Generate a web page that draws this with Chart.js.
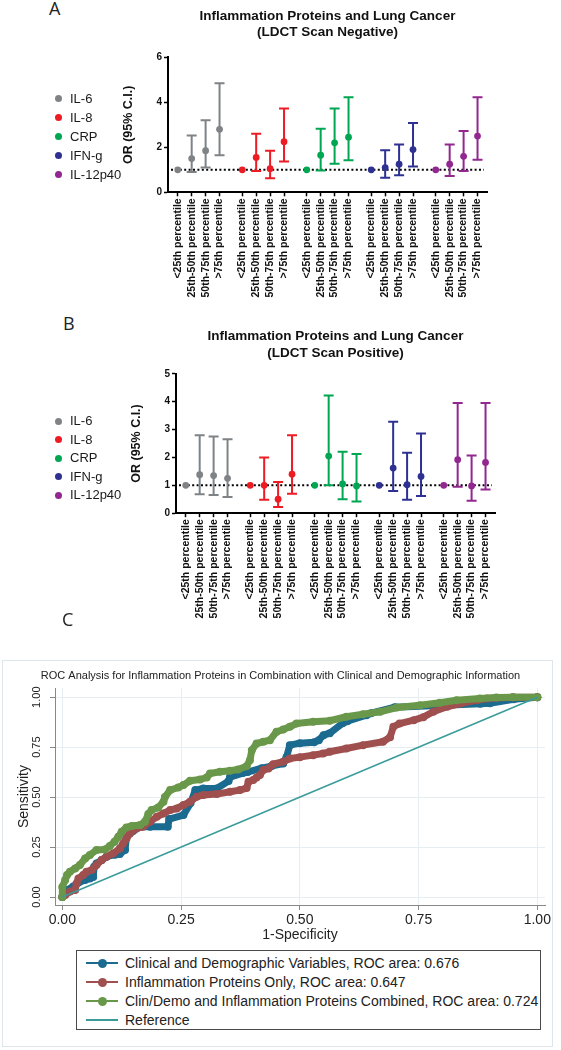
<!DOCTYPE html>
<html>
<head>
<meta charset="utf-8">
<script src="https://cdn.jsdelivr.net/npm/chart.js@4.4.1/dist/chart.umd.min.js"></script>
<style>
  body { margin: 0; background: #fff; }
  #page { position: relative; width: 561px; height: 1050px; overflow: hidden; font-family: Arial, "Liberation Sans", sans-serif; }
  canvas { position: absolute; left: 0; }
  .letter { position: absolute; font-family: "Open Sans", sans-serif; font-size: 18px; line-height: 20px; color: #222; }
  .lg-item { position: absolute; font-size: 13px; line-height: 16px; height: 16px; color: #1a1a1a; white-space: nowrap; }
  .lg-dot { position: absolute; width: 7px; height: 7px; border-radius: 50%; }
  #frameC { position: absolute; left: 2px; top: 660px; width: 549px; height: 385px; border: 1px solid #dfe6ea; }
  #legendC { position: absolute; left: 76px; top: 950px; width: 463px; height: 78px; border: 1px solid #4a4a4a; background: #fff; }
  .lc-row { position: absolute; left: 48px; font-size: 14px; line-height: 18px; height: 18px; color: #222; white-space: nowrap; }
  .lc-line { position: absolute; left: 9px; width: 32px; height: 2px; }
  .lc-mark { position: absolute; left: 21px; width: 9px; height: 9px; border-radius: 50%; }
</style>
</head>
<body>
<div id="page">
  <div class="letter" style="left:49px;top:-2px">A</div>
  <canvas id="chartA" width="561" height="310" style="top:0"></canvas>
  <div class="letter" style="left:63px;top:313px">B</div>
  <canvas id="chartB" width="561" height="330" style="top:310px"></canvas>
  <div class="letter" style="left:62px;top:609px">C</div>
  <div id="frameC"></div>
  <canvas id="chartC" width="561" height="290" style="top:660px"></canvas>
  <div id="legendC"></div>
</div>
<script>
// ---- panels A and B: odds ratios by quartile ----
const proteins = ['IL-6', 'IL-8', 'CRP', 'IFN-g', 'IL-12p40'];
const proteinColors = ['#7f8386', '#ed1c24', '#00a651', '#2e3192', '#92278f'];
const percentiles = ['<25th percentile', '25th-50th percentile', '50th-75th percentile', '>75th percentile'];

// LDCT scan negative (A); first quartile is the reference, no interval
const negOR = [[1, 1.5, 1.85, 2.8], [1, 1.55, 1.05, 2.25], [1, 1.65, 2.2, 2.45], [1, 1.1, 1.25, 1.9], [1, 1.25, 1.6, 2.5]];
const negLo = [[null, 0.9, 1.1, 1.65], [null, 0.95, 0.62, 1.37], [null, 0.97, 1.27, 1.42], [null, 0.65, 0.76, 1.15], [null, 0.72, 0.95, 1.45]];
const negHi = [[null, 2.52, 3.2, 4.85], [null, 2.6, 1.85, 3.72], [null, 2.82, 3.72, 4.22], [null, 1.87, 2.13, 3.08], [null, 2.12, 2.72, 4.22]];

// LDCT scan positive (B)
const posOR = [[1, 1.38, 1.35, 1.25], [1, 1.0, 0.5, 1.4], [1, 2.05, 1.05, 0.98], [1, 1.62, 1.02, 1.32], [1, 1.92, 0.98, 1.82]];
const posLo = [[null, 0.68, 0.65, 0.58], [null, 0.48, 0.22, 0.7], [null, 1.0, 0.5, 0.42], [null, 0.8, 0.48, 0.62], [null, 0.95, 0.45, 0.85]];
const posHi = [[null, 2.8, 2.75, 2.65], [null, 2.0, 1.12, 2.8], [null, 4.22, 2.2, 2.12], [null, 3.28, 2.17, 2.86], [null, 3.95, 2.07, 3.95]];

// ---- panel C: ROC curves (1-specificity, sensitivity) ----
const clinX = [0, 0.009, 0.023, 0.034, 0.048, 0.058, 0.065, 0.067, 0.072, 0.083, 0.093, 0.111, 0.121, 0.132, 0.135, 0.142, 0.149, 0.164, 0.185, 0.222, 0.225, 0.255, 0.27, 0.28, 0.297, 0.325, 0.35, 0.353, 0.38, 0.39, 0.42, 0.44, 0.465, 0.472, 0.479, 0.5, 0.53, 0.54, 0.55, 0.563, 0.59, 0.6, 0.64, 0.65, 0.7, 0.88, 0.9, 0.95, 1];
const clinY = [0, 0.035, 0.052, 0.072, 0.085, 0.093, 0.1, 0.152, 0.168, 0.185, 0.202, 0.212, 0.215, 0.235, 0.3, 0.318, 0.33, 0.352, 0.352, 0.352, 0.39, 0.41, 0.47, 0.535, 0.543, 0.543, 0.58, 0.6, 0.62, 0.625, 0.645, 0.655, 0.668, 0.7, 0.76, 0.77, 0.775, 0.785, 0.81, 0.82, 0.87, 0.88, 0.91, 0.92, 0.95, 0.967, 0.97, 0.99, 1];
const inflX = [0, 0.006, 0.016, 0.027, 0.03, 0.034, 0.044, 0.051, 0.062, 0.072, 0.083, 0.093, 0.107, 0.121, 0.128, 0.135, 0.142, 0.156, 0.17, 0.185, 0.199, 0.213, 0.227, 0.241, 0.255, 0.269, 0.283, 0.297, 0.325, 0.353, 0.374, 0.388, 0.392, 0.402, 0.409, 0.416, 0.423, 0.434, 0.444, 0.465, 0.479, 0.5, 0.528, 0.549, 0.563, 0.598, 0.633, 0.675, 0.69, 0.697, 0.71, 0.74, 0.76, 0.781, 0.81, 0.838, 0.873, 0.894, 0.949, 1];
const inflY = [0, 0.01, 0.027, 0.035, 0.068, 0.093, 0.11, 0.127, 0.135, 0.16, 0.185, 0.202, 0.218, 0.243, 0.268, 0.293, 0.318, 0.343, 0.352, 0.377, 0.402, 0.418, 0.435, 0.443, 0.46, 0.477, 0.502, 0.51, 0.515, 0.527, 0.535, 0.545, 0.577, 0.585, 0.598, 0.61, 0.635, 0.643, 0.665, 0.677, 0.693, 0.7, 0.71, 0.718, 0.727, 0.743, 0.76, 0.777, 0.8, 0.852, 0.868, 0.885, 0.9, 0.927, 0.952, 0.968, 0.985, 0.993, 1, 1];
const combX = [0, 0, 0.006, 0.01, 0.016, 0.027, 0.037, 0.048, 0.058, 0.072, 0.09, 0.1, 0.11, 0.118, 0.125, 0.135, 0.146, 0.164, 0.174, 0.181, 0.188, 0.202, 0.213, 0.216, 0.227, 0.244, 0.255, 0.269, 0.29, 0.304, 0.311, 0.332, 0.353, 0.37, 0.388, 0.395, 0.399, 0.409, 0.423, 0.437, 0.451, 0.465, 0.479, 0.493, 0.528, 0.563, 0.598, 0.633, 0.669, 0.704, 0.753, 0.795, 0.83, 0.879, 0.914, 0.949, 1];
const combY = [0, 0.05, 0.085, 0.11, 0.127, 0.143, 0.16, 0.193, 0.21, 0.235, 0.238, 0.255, 0.277, 0.302, 0.327, 0.348, 0.355, 0.36, 0.377, 0.415, 0.435, 0.448, 0.477, 0.5, 0.535, 0.548, 0.56, 0.582, 0.588, 0.598, 0.618, 0.627, 0.632, 0.638, 0.655, 0.685, 0.735, 0.768, 0.777, 0.785, 0.827, 0.838, 0.852, 0.868, 0.877, 0.882, 0.902, 0.915, 0.927, 0.948, 0.96, 0.972, 0.985, 0.993, 0.998, 1, 1];
const refX = [0, 1];
const refY = [0, 1];
const rocTicks = [0, 0.25, 0.5, 0.75, 1];
const rocLabels = ['Clinical and Demographic Variables, ROC area: 0.676', 'Inflammation Proteins Only, ROC area: 0.647', 'Clin/Demo and Inflammation Proteins Combined, ROC area: 0.724', 'Reference'];
const rocColors = ['#1b6a8f', '#a04f4f', '#6a984a', '#3a9b9b'];

Chart.defaults.font.family = 'Arial, "Liberation Sans", sans-serif';

// spacing between protein groups, in quartile slots
const GROUP_STEP = 4.63;

// error bars + dotted OR = 1 line, drawn under the points
const orBars = {
  id: 'orBars',
  beforeDatasetsDraw(chart) {
    const { ctx, chartArea: a, scales: { x, y } } = chart;
    ctx.save();
    const y1 = y.getPixelForValue(1);
    ctx.strokeStyle = '#000';
    ctx.lineWidth = 2;
    ctx.setLineDash([2, 2.4]);
    ctx.beginPath();
    ctx.moveTo(a.left + 3, y1);
    ctx.lineTo(a.right - 3, y1);
    ctx.stroke();
    ctx.setLineDash([]);
    chart.data.datasets.forEach(ds => {
      ctx.strokeStyle = ds.borderColor;
      ctx.lineWidth = 2;
      ds.data.forEach((p, i) => {
        if (ds.lo[i] == null) return;
        const px = x.getPixelForValue(p.x);
        const top = y.getPixelForValue(ds.hi[i]);
        const bot = y.getPixelForValue(ds.lo[i]);
        ctx.beginPath();
        ctx.moveTo(px, top); ctx.lineTo(px, bot);
        ctx.moveTo(px - 5, top); ctx.lineTo(px + 5, top);
        ctx.moveTo(px - 5, bot); ctx.lineTo(px + 5, bot);
        ctx.stroke();
      });
    });
    ctx.restore();
  }
};

function orChart(id, subtitle, OR, LO, HI, box) {
  const tickPos = [];
  proteins.forEach((p, g) => percentiles.forEach((q, i) => tickPos.push(g * GROUP_STEP + i)));
  const datasets = proteins.map((name, g) => ({
    label: name,
    data: OR[g].map((v, i) => ({ x: g * GROUP_STEP + i, y: v })),
    lo: LO[g],
    hi: HI[g],
    backgroundColor: proteinColors[g],
    borderColor: proteinColors[g],
    borderWidth: 0,
    pointRadius: 3.4,
    pointHoverRadius: 3.4
  }));
  return new Chart(document.getElementById(id), {
    type: 'scatter',
    data: { datasets },
    options: {
      responsive: false,
      animation: false,
      layout: { padding: { left: box.left, right: box.right, top: 0, bottom: 0 } },
      plugins: {
        legend: { display: false },
        tooltip: { enabled: false },
        title: {
          display: true,
          fullSize: false,
          text: ['Inflammation Proteins and Lung Cancer', subtitle],
          color: '#111',
          font: { size: 13.5, weight: 'bold', lineHeight: 1.2 },
          padding: { top: box.titleTop, bottom: box.titleBottom }
        }
      },
      scales: {
        x: {
          type: 'linear',
          min: -0.7,
          max: 22.2,
          bounds: 'data',
          afterBuildTicks: s => { s.ticks = tickPos.map(v => ({ value: v })); },
          afterFit: s => { s.height = box.xAxisHeight; },
          ticks: {
            autoSkip: false, minRotation: 90, maxRotation: 90, padding: 2,
            color: '#111', font: { size: 10.5, weight: 'bold' },
            callback: (v, i) => percentiles[i % percentiles.length]
          },
          grid: { drawOnChartArea: false, drawTicks: true, tickLength: 4, tickColor: '#000', tickWidth: 1.5 },
          border: { color: '#000', width: 2 }
        },
        y: {
          min: 0,
          max: box.yMax,
          afterFit: s => { s.width = box.yAxisWidth; },
          ticks: { stepSize: box.yStep, padding: 2, color: '#111', font: { size: 10, weight: 'bold' } },
          grid: { drawOnChartArea: false, drawTicks: true, tickLength: 4, tickColor: '#000', tickWidth: 1.5 },
          border: { color: '#000', width: 2 },
          title: { display: true, text: 'OR (95% C.I.)', color: '#111', font: { size: 12.5, weight: 'bold' }, padding: { top: 1, bottom: 0 } }
        }
      }
    },
    plugins: [orBars]
  });
}

function proteinLegend(dotX, textX, y0, step) {
  const page = document.getElementById('page');
  proteins.forEach((name, g) => {
    const cy = y0 + g * step;
    const dot = document.createElement('div');
    dot.className = 'lg-dot';
    dot.style.left = (dotX - 3.5) + 'px';
    dot.style.top = (cy - 3.5) + 'px';
    dot.style.background = proteinColors[g];
    page.appendChild(dot);
    const t = document.createElement('div');
    t.className = 'lg-item';
    t.style.left = textX + 'px';
    t.style.top = (cy - 8) + 'px';
    t.textContent = name;
    page.appendChild(t);
  });
}

orChart('chartA', '(LDCT Scan Negative)', negOR, negLo, negHi,
  { left: 120, right: 74, yAxisWidth: 48, titleTop: 8.4, titleBottom: 16.5, xAxisHeight: 117.7, yMax: 6, yStep: 2 });
orChart('chartB', '(LDCT Scan Positive)', posOR, posLo, posHi,
  { left: 128, right: 66, yAxisWidth: 48, titleTop: 18.6, titleBottom: 12.8, xAxisHeight: 126.8, yMax: 5, yStep: 1 });
proteinLegend(58, 70, 98.5, 19);
proteinLegend(58, 70, 421, 18.6);

// ---- panel C ----
const toPts = (xs, ys) => xs.map((x, i) => ({ x, y: ys[i] }));
const rocLine = (xs, ys, color, order) => ({
  data: toPts(xs, ys), showLine: true, borderColor: color, backgroundColor: color,
  borderWidth: 7, borderJoinStyle: 'round', borderCapStyle: 'round',
  pointRadius: 4, pointBorderWidth: 0, pointHoverRadius: 4, order
});

new Chart(document.getElementById('chartC'), {
  type: 'scatter',
  data: {
    datasets: [
      rocLine(clinX, clinY, rocColors[0], 3),
      rocLine(inflX, inflY, rocColors[1], 2),
      rocLine(combX, combY, rocColors[2], 1),
      { data: toPts(refX, refY), showLine: true, borderColor: rocColors[3], borderWidth: 1.5, pointRadius: 0, order: 0 }
    ]
  },
  options: {
    responsive: false,
    animation: false,
    layout: { padding: 0 },
    plugins: {
      legend: { display: false },
      tooltip: { enabled: false },
      title: {
        display: true,
        text: 'ROC Analysis for Inflammation Proteins in Combination with Clinical and Demographic Information',
        color: '#222',
        font: { size: 11, weight: 'normal' },
        padding: { top: 9, bottom: 6 }
      }
    },
    scales: {
      x: {
        type: 'linear', min: -0.0154, max: 1.0162, bounds: 'data',
        afterBuildTicks: s => { s.ticks = rocTicks.map(v => ({ value: v })); },
        afterFit: s => { s.height = 45; },
        ticks: { padding: 2, color: '#222', font: { size: 14 }, callback: v => v.toFixed(2) },
        grid: { color: '#e6eef1', lineWidth: 1, tickColor: '#888', tickLength: 5 },
        border: { color: '#888', width: 1 },
        title: { display: true, text: '1-Specificity', color: '#222', font: { size: 14 }, padding: { top: 0, bottom: 6 } }
      },
      y: {
        min: -0.04, max: 1.045,
        afterBuildTicks: s => { s.ticks = rocTicks.map(v => ({ value: v })); },
        afterFit: s => { s.width = 55; },
        ticks: { minRotation: 90, maxRotation: 90, crossAlign: 'center', padding: 2, color: '#222', font: { size: 11 }, callback: v => v.toFixed(2) },
        grid: { color: '#e6eef1', lineWidth: 1, tickColor: '#888', tickLength: 5 },
        border: { color: '#888', width: 1 },
        title: { display: true, text: 'Sensitivity', color: '#222', font: { size: 14 }, padding: { top: 15.5, bottom: 0 } }
      },
      // empty right-hand axis keeps the plot region off the right edge
      yPad: {
        position: 'right', display: true, min: 0, max: 1,
        afterFit: s => { s.width = 16; },
        ticks: { display: false }, grid: { display: false }, border: { display: false }
      }
    }
  }
});

// legend box for panel C
(function () {
  const box = document.getElementById('legendC');
  rocLabels.forEach((label, i) => {
    const cy = 12 + i * 19;
    const line = document.createElement('div');
    line.className = 'lc-line';
    line.style.top = (cy - 1) + 'px';
    line.style.background = rocColors[i];
    box.appendChild(line);
    if (i < 3) {
      const m = document.createElement('div');
      m.className = 'lc-mark';
      m.style.top = (cy - 4.5) + 'px';
      m.style.background = rocColors[i];
      box.appendChild(m);
    }
    const t = document.createElement('div');
    t.className = 'lc-row';
    t.style.top = (cy - 9) + 'px';
    t.textContent = label;
    box.appendChild(t);
  });
})();
</script>
</body>
</html>
